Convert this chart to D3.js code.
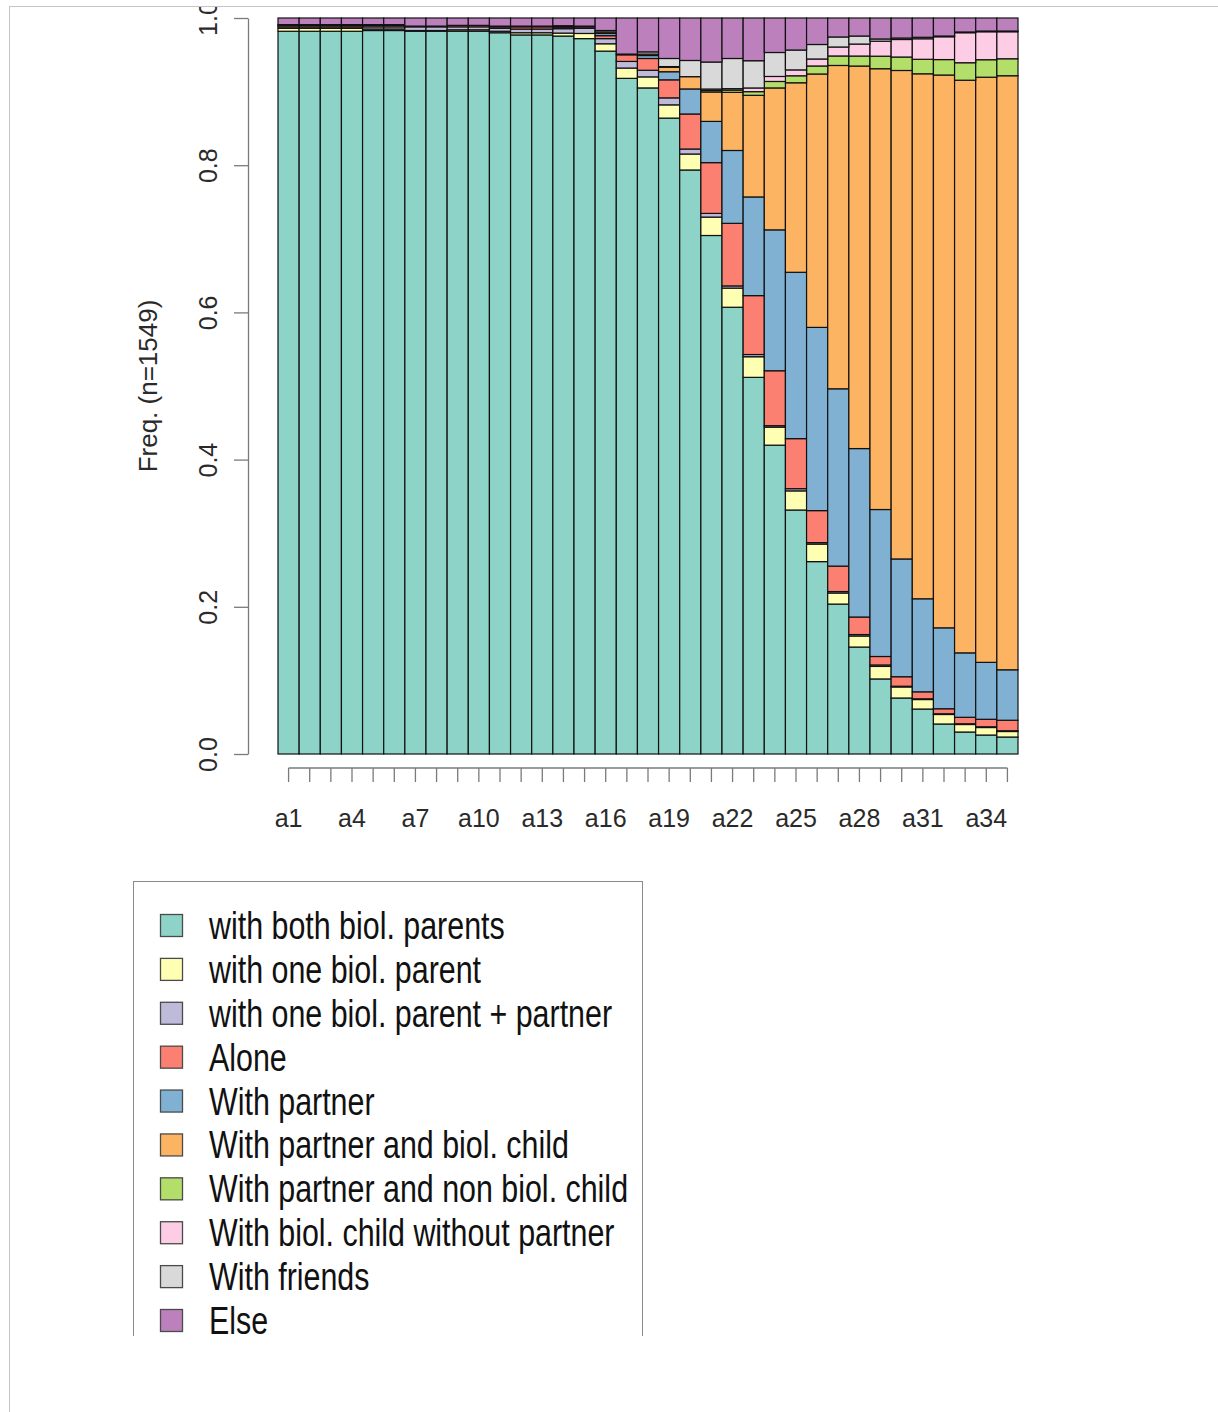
<!DOCTYPE html>
<html>
<head>
<meta charset="utf-8">
<script src="https://cdn.jsdelivr.net/npm/d3@7"></script>
<style>
  body { margin: 0; background: #fff; }
  svg { display: block; font-family: "Liberation Sans", Arial, Helvetica, sans-serif; }
</style>
</head>
<body>
<svg id="chart" width="1218" height="1412"></svg>
<script>
// Ages (time points) along the x axis
const ages = d3.range(1, 36).map(i => "a" + i);
// Only every third age is labelled on the axis
const ageLabels = ["a1","a4","a7","a10","a13","a16","a19","a22","a25","a28","a31","a34"];

// Living-arrangement states, in stacking order (bottom to top)
const states = [
  "with both biol. parents",
  "with one biol. parent",
  "with one biol. parent + partner",
  "Alone",
  "With partner",
  "With partner and biol. child",
  "With partner and non biol. child",
  "With biol. child without partner",
  "With friends",
  "Else"
];
const stateColors = ["#8DD3C7","#FFFFB3","#BEBADA","#FB8072","#80B1D3","#FDB462","#B3DE69","#FCCDE5","#D9D9D9","#BC80BD"];

// Share of the sample in each state at ages a1..a35
const bothParents = [.982,.982,.982,.982,.983,.983,.982,.982,.982,.982,.980,.977,.977,.9755,.972,.955,.918,.905,.864,.7935,.7045,.607,.5115,.420,.3315,.2615,.2038,.1454,.102,.0761,.0611,.0408,.0299,.0258,.0231];
const oneParent = [.004,.004,.004,.004,.002,.002,.001,.001,.002,.002,.002,.003,.003,.004,.007,.010,.014,.015,.018,.0217,.025,.026,.028,.0245,.026,.0238,.015,.015,.017,.015,.0129,.0129,.0102,.0102,.0075];
const oneParentPartner = [.002,.002,.002,.002,.003,.003,.005,.005,.004,.004,.004,.005,.005,.006,.007,.007,.009,.009,.0095,.0068,.005,.003,.003,.002,.003,.002,.002,.002,.002,.001,.001,.001,.001,.001,.001];
const alone = [.002,.002,.002,.002,.002,.002,.001,.001,.002,.002,.002,.003,.003,.002,.002,.004,.009,.016,.0245,.0476,.069,.085,.080,.0747,.068,.0435,.0346,.0238,.0115,.0129,.0095,.0068,.0088,.0102,.0143];
const withPartner = [0,0,0,0,0,0,0,0,0,0,.001,.001,0,.001,.001,.003,.001,.004,.011,.034,.056,.099,.134,.1916,.226,.249,.241,.229,.1997,.160,.1264,.110,.0876,.0774,.0686];
const partnerBiolChild = [0,0,0,0,0,0,0,0,0,0,0,0,0,0,0,.002,0,.002,.006,.0167,.040,.079,.138,.193,.2575,.3444,.4395,.520,.599,.6637,.7133,.7514,.7785,.7955,.8077];
const partnerNonBiolChild = [0,0,0,0,0,0,0,0,0,0,0,0,0,0,0,0,0,0,.001,0,.002,.003,.005,.0088,.0095,.0109,.0129,.0136,.017,.0183,.0197,.021,.0238,.0238,.0231];
const childNoPartner = [0,0,0,0,0,0,0,0,0,0,0,0,0,0,0,0,0,0,0,0,.002,.002,.005,.0068,.008,.0095,.0122,.0163,.0204,.0238,.0279,.031,.0408,.038,.0367];
const friends = [.001,.001,.001,.001,.001,.001,0,0,0,0,0,0,.001,.001,0,.002,0,.003,.011,.022,.0367,.041,.037,.0326,.027,.0197,.0136,.0109,.003,.002,.002,.001,.001,.001,.001];
const other = [.009,.009,.009,.009,.009,.009,.011,.011,.010,.010,.011,.011,.011,.0105,.011,.017,.049,.046,.055,.0577,.0598,.055,.058,.0469,.0435,.036,.0258,.0245,.0285,.0272,.0262,.0245,.019,.0177,.0177];

const seriesValues = [bothParents, oneParent, oneParentPartner, alone, withPartner,
  partnerBiolChild, partnerNonBiolChild, childNoPartner, friends, other];

// One row per age, one column per state
const table = ages.map((age, i) => {
  const row = { age };
  states.forEach((s, k) => { row[s] = seriesValues[k][i]; });
  return row;
});

const svg = d3.select("#chart");

// Outer frame of the figure
svg.append("line").attr("x1", 9).attr("x2", 1218).attr("y1", 6.5).attr("y2", 6.5)
  .attr("stroke", "#c4c4c4").attr("stroke-width", 1);
svg.append("line").attr("x1", 9.5).attr("x2", 9.5).attr("y1", 6).attr("y2", 1412)
  .attr("stroke", "#c4c4c4").attr("stroke-width", 1);

svg.append("defs").append("clipPath").attr("id", "figclip")
  .append("rect").attr("x", 10).attr("y", 7).attr("width", 1208).attr("height", 1329);

const fig = svg.append("g").attr("clip-path", "url(#figclip)");

const x = d3.scaleBand().domain(ages).range([278, 1018]).padding(0);
const y = d3.scaleLinear().domain([0, 1]).range([754, 18]);
const color = d3.scaleOrdinal().domain(states).range(stateColors);

const stacked = d3.stack().keys(states).offset(d3.stackOffsetExpand)(table);

// Stacked bars
fig.append("g").selectAll("g")
  .data(stacked)
  .join("g")
    .attr("fill", d => color(d.key))
  .selectAll("rect")
  .data(d => d)
  .join("rect")
    .attr("x", d => x(d.data.age))
    .attr("width", x.bandwidth())
    .attr("y", d => y(d[1]))
    .attr("height", d => y(d[0]) - y(d[1]))
    .attr("stroke", "#111")
    .attr("stroke-width", 1.2);

const axisColor = "#7a7a7a";
const labelColor = "#2a2a2a";
const fontPx = 25;

// Y axis
const yAxis = fig.append("g")
  .attr("transform", "translate(248,0)")
  .call(d3.axisLeft(y).tickValues([0, .2, .4, .6, .8, 1]).tickFormat(d3.format(".1f"))
    .tickSize(14).tickSizeOuter(0));
yAxis.select(".domain").attr("stroke", axisColor).attr("stroke-width", 1.3);
yAxis.selectAll(".tick line").attr("stroke", axisColor).attr("stroke-width", 1.3);
yAxis.selectAll(".tick text")
  .attr("transform", "rotate(-90)")
  .attr("x", 0).attr("y", -31).attr("dy", 0)
  .attr("text-anchor", "middle")
  .attr("fill", labelColor)
  .style("font-size", fontPx + "px")
  .style("font-family", "'Liberation Sans', Arial, sans-serif");

// Y axis title
fig.append("text")
  .attr("transform", `translate(157,${(754 + 18) / 2}) rotate(-90)`)
  .attr("text-anchor", "middle")
  .attr("fill", labelColor)
  .style("font-size", "26px")
  .text("Freq. (n=1549)");

// X axis
const half = x.bandwidth() / 2;
const xAxis = fig.append("g")
  .attr("transform", "translate(0,768)")
  .call(d3.axisBottom(x).tickValues(ages)
    .tickFormat(d => ageLabels.includes(d) ? d : "")
    .tickSize(14).tickSizeOuter(0));
xAxis.select(".domain").remove();
xAxis.append("line")
  .attr("x1", x(ages[0]) + half).attr("x2", x(ages[ages.length - 1]) + half)
  .attr("y1", 0).attr("y2", 0)
  .attr("stroke", axisColor).attr("stroke-width", 1.3);
xAxis.selectAll(".tick line").attr("stroke", axisColor).attr("stroke-width", 1.3);
xAxis.selectAll(".tick text")
  .attr("y", 59).attr("dy", 0)
  .attr("fill", labelColor)
  .style("font-size", fontPx + "px")
  .style("font-family", "'Liberation Sans', Arial, sans-serif");

// Legend
const legend = fig.append("g");
legend.append("rect")
  .attr("x", 133.5).attr("y", 881.5).attr("width", 509).attr("height", 520)
  .attr("fill", "none").attr("stroke", "#8a8a8a").attr("stroke-width", 1);

const rowY = d3.scaleLinear().domain([0, states.length - 1]).range([926, 1321]);

const items = legend.selectAll("g.item")
  .data(states)
  .join("g")
    .attr("class", "item")
    .attr("transform", (d, i) => `translate(0,${rowY(i)})`);

items.append("rect")
  .attr("x", 160.5).attr("y", -11.5).attr("width", 22).attr("height", 22)
  .attr("fill", d => color(d))
  .attr("stroke", "#4a4a4a").attr("stroke-width", 1.3);

items.append("text")
  .attr("transform", "translate(209,13) scale(0.8,1)")
  .attr("fill", "#111")
  .style("font-size", "38px")
  .text(d => d);
</script>
</body>
</html>
